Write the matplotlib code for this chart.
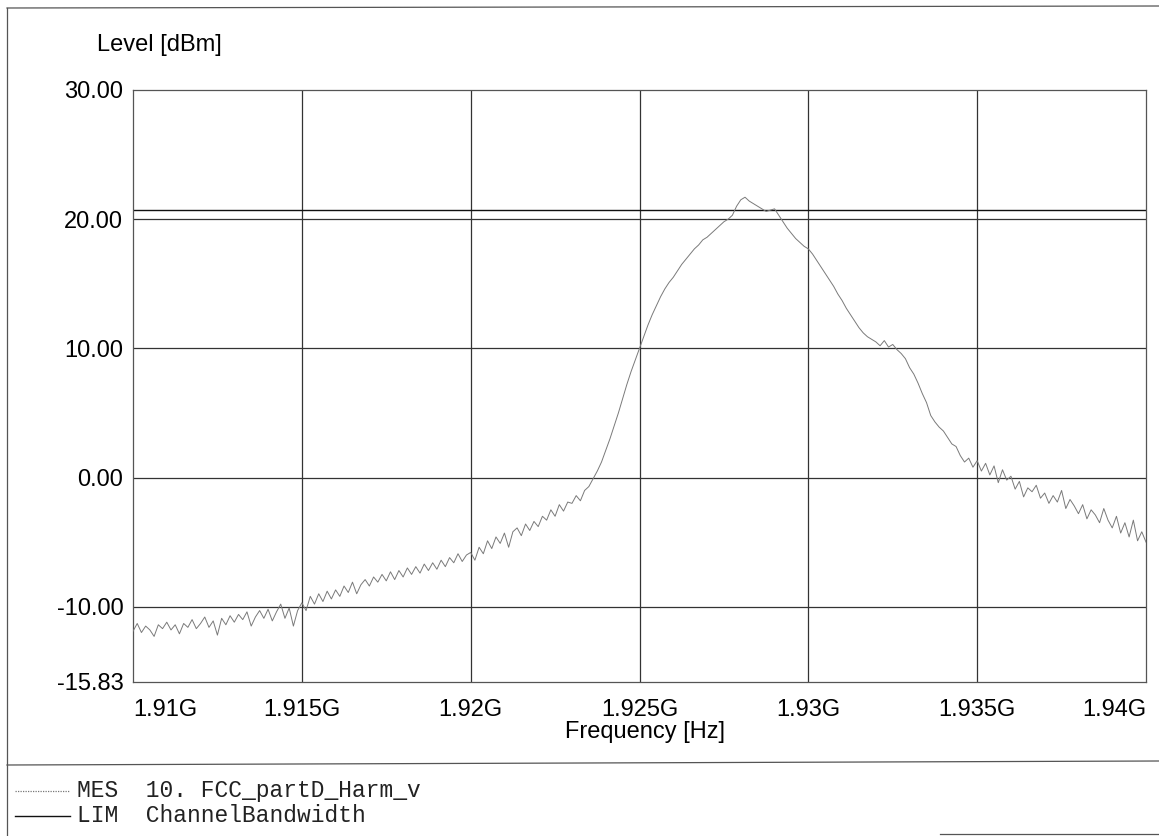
import numpy as np
import matplotlib
matplotlib.use("Agg")
import matplotlib.pyplot as plt
from matplotlib.lines import Line2D


FREQ_START_HZ = 1.910e9
FREQ_STOP_HZ = 1.940e9

level_dbm = [
    -11.9, -11.3, -12.0, -11.5, -11.8, -12.3, -11.4, -11.7,
    -11.2, -11.8, -11.4, -12.1, -11.3, -11.6, -11.0, -11.7,
    -11.3, -10.8, -11.6, -11.1, -12.2, -10.9, -11.4, -10.7,
    -11.2, -10.6, -11.0, -10.4, -11.5, -10.8, -10.3, -10.9,
    -10.2, -11.1, -10.4, -9.8, -10.9, -10.1, -11.5, -10.3,
    -9.7, -10.3, -9.2, -9.8, -9.0, -9.6, -8.8, -9.4,
    -8.7, -9.2, -8.4, -8.9, -8.1, -9.0, -8.3, -7.9,
    -8.4, -7.7, -8.1, -7.5, -8.0, -7.3, -7.9, -7.2,
    -7.7, -7.0, -7.5, -6.9, -7.4, -6.7, -7.2, -6.6,
    -7.1, -6.4, -6.9, -6.2, -6.6, -5.9, -6.5, -6.0,
    -5.8, -6.4, -5.4, -5.9, -4.9, -5.5, -4.6, -5.1,
    -4.3, -5.4, -4.2, -3.9, -4.5, -3.6, -4.1, -3.4,
    -3.8, -3.0, -3.3, -2.5, -3.0, -2.1, -2.6, -1.9,
    -2.0, -1.4, -1.8, -1.0, -0.7, -0.1, 0.5, 1.2,
    2.1, 3.0, 4.0, 5.0, 6.1, 7.2, 8.2, 9.1,
    10.0, 10.9, 11.8, 12.6, 13.3, 14.0, 14.6, 15.1,
    15.5, 16.0, 16.5, 16.9, 17.3, 17.7, 18.0, 18.4,
    18.6, 18.9, 19.2, 19.5, 19.8, 20.0, 20.3, 21.0,
    21.5, 21.7, 21.4, 21.2, 21.0, 20.8, 20.6, 20.7,
    20.8, 20.3, 19.8, 19.3, 18.9, 18.5, 18.2, 17.9,
    17.7, 17.3, 16.8, 16.3, 15.8, 15.3, 14.8, 14.2,
    13.7, 13.1, 12.6, 12.1, 11.6, 11.2, 10.9, 10.7,
    10.5, 10.2, 10.6, 10.1, 10.3, 9.9, 9.6, 9.2,
    8.5, 8.0, 7.3, 6.5, 5.8, 4.8, 4.3, 3.9,
    3.6, 3.1, 2.6, 2.4, 1.7, 1.2, 1.5, 0.8,
    1.3, 0.5, 1.1, 0.2, 0.9, -0.4, 0.6, -0.2,
    0.1, -0.9, -0.3, -1.5, -0.8, -1.1, -0.6, -1.6,
    -1.2, -2.0, -1.4, -1.9, -1.0, -2.4, -1.7, -2.2,
    -2.8, -2.1, -3.2, -2.5, -2.9, -3.5, -2.4, -3.3,
    -3.9, -3.0, -4.3, -3.5, -4.6, -3.3, -4.9, -4.2,
    -5.0,
]

limit_dbm = 20.7

y_ticks = [30.0, 20.0, 10.0, 0.0, -10.0, -15.83]
y_grid = [20.0, 10.0, 0.0, -10.0]
x_ticks = [1.910e9, 1.915e9, 1.920e9, 1.925e9, 1.930e9, 1.935e9, 1.940e9]
x_labels = ["1.91G", "1.915G", "1.92G", "1.925G", "1.93G", "1.935G", "1.94G"]

legend_rows = ["MES  10. FCC_partD_Harm_v", "LIM  ChannelBandwidth"]

W, H = 1159, 836
SANS = "Liberation Sans"
MONO = "Liberation Mono"


def fx(px):
    return px / W


def fy(py):
    return 1 - py / H


freq = np.linspace(FREQ_START_HZ, FREQ_STOP_HZ, len(level_dbm))

fig = plt.figure(figsize=(W / 100, H / 100), dpi=100)
fig.patch.set_facecolor("white")

ax = fig.add_axes([fx(133), fy(682), fx(1146) - fx(133), fy(90) - fy(682)])
ax.set_xlim(FREQ_START_HZ, FREQ_STOP_HZ)
ax.set_ylim(-15.83, 30.0)

for y in y_grid:
    ax.axhline(y, color="#333333", lw=0.9, zorder=1)
for x in x_ticks[1:-1]:
    ax.axvline(x, color="#333333", lw=0.9, zorder=1)

ax.axhline(limit_dbm, color="#111111", lw=1.0, zorder=2)
ax.plot(freq, level_dbm, color="#7a7a7a", lw=0.7, zorder=3)

for side in ax.spines.values():
    side.set_color("#555555")
    side.set_linewidth(0.9)

ax.set_yticks(y_ticks)
ax.set_yticklabels([f"{v:.2f}" for v in y_ticks], fontfamily=SANS, fontsize=17)
ax.set_xticks(x_ticks)
ax.set_xticklabels(x_labels, fontfamily=SANS, fontsize=17)
ax.tick_params(axis="both", length=0)
ax.tick_params(axis="x", pad=12)
ax.tick_params(axis="y", pad=7)
xl = ax.get_xticklabels()
xl[0].set_ha("left")
xl[-1].set_ha("right")

fig.text(fx(97), fy(45), "Level [dBm]", fontfamily=SANS, fontsize=17, va="center", ha="left")
fig.text(fx(645), fy(732), "Frequency [Hz]", fontfamily=SANS, fontsize=17, va="center", ha="center")

# outer page frame and legend separator
frame = dict(color="#555555", lw=0.9, transform=fig.transFigure)
fig.add_artist(Line2D([fx(7), fx(7)], [fy(8), fy(836)], **frame))
fig.add_artist(Line2D([fx(7), 1], [fy(8), fy(6)], **frame))
fig.add_artist(Line2D([fx(7), 1], [fy(765), fy(761)], **frame))
fig.add_artist(Line2D([fx(940), 1], [fy(834), fy(834)], **frame))

# legend block
fig.add_artist(Line2D([fx(15), fx(70)], [fy(791), fy(791)], color="#777777", lw=0.9,
                      ls=(0, (1, 1)), transform=fig.transFigure))
fig.add_artist(Line2D([fx(15), fx(70)], [fy(816), fy(816)], color="#111111", lw=1.0,
                      transform=fig.transFigure))
for row, py in zip(legend_rows, [790, 815]):
    fig.text(fx(77), fy(py), row, fontfamily=MONO, fontsize=16.5, va="center", ha="left",
             color="#222222")

fig.savefig("out.png", dpi=100)
